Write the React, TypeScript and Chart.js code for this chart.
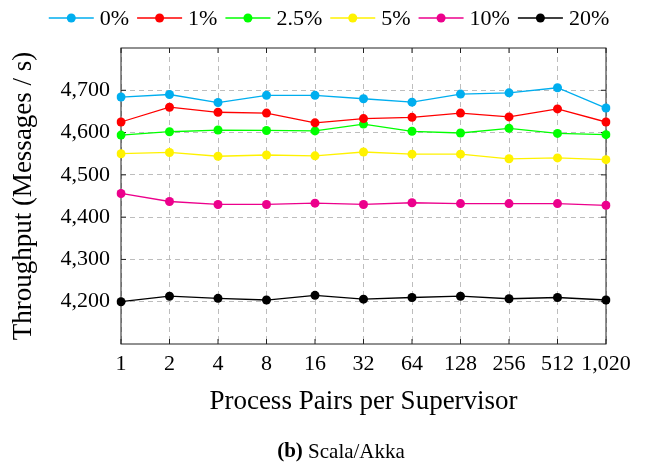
import React, { useEffect, useRef } from "react";
import { Chart, registerables } from "chart.js";

Chart.register(...registerables);

const categories = ["1", "2", "4", "8", "16", "32", "64", "128", "256", "512", "1,020"];
const seriesNames = ["0%", "1%", "2.5%", "5%", "10%", "20%"];
const seriesColors = ["#00AEEF", "#FF0000", "#00FF00", "#FFF200", "#EC008C", "#000000"];

const values0 = [4684, 4690, 4671, 4688, 4688, 4680, 4672, 4691, 4694, 4706, 4658];
const values1 = [4625, 4660, 4648, 4646, 4623, 4633, 4636, 4646, 4637, 4656, 4625];
const values2_5 = [4594, 4602, 4606, 4605, 4604, 4620, 4603, 4599, 4610, 4598, 4595];
const values5 = [4550, 4553, 4544, 4547, 4545, 4554, 4549, 4549, 4538, 4540, 4536];
const values10 = [4456, 4437, 4430, 4430, 4433, 4430, 4434, 4432, 4432, 4432, 4428];
const values20 = [4200, 4213, 4208, 4204, 4215, 4206, 4210, 4213, 4207, 4210, 4204];

const yTickValues = [4200, 4300, 4400, 4500, 4600, 4700];
const yMin = 4100;
const yMax = 4800;

const xTitle = "Process Pairs per Supervisor";
const yTitle = "Throughput (Messages / s)";
const captionBold = "(b)";
const captionRest = " Scala/Akka";

const FONT = "'Liberation Serif', 'DejaVu Serif', serif";

Chart.defaults.font.family = FONT;
Chart.defaults.font.size = 22;
Chart.defaults.color = "#000";

const framePlugin = {
  id: "frame",
  beforeDatasetsDraw(chart: any) {
    const { ctx, chartArea: a, scales } = chart;
    ctx.save();
    ctx.strokeStyle = "#222";
    ctx.lineWidth = 1;
    ctx.strokeRect(a.left, a.top, a.right - a.left, a.bottom - a.top);
    const tl = 5;
    ctx.beginPath();
    scales.y.ticks.forEach((t: any) => {
      const y = scales.y.getPixelForValue(t.value);
      ctx.moveTo(a.left, y);
      ctx.lineTo(a.left + tl, y);
      ctx.moveTo(a.right, y);
      ctx.lineTo(a.right - tl, y);
    });
    scales.x.ticks.forEach((_t: any, i: number) => {
      const x = scales.x.getPixelForTick(i);
      ctx.moveTo(x, a.bottom);
      ctx.lineTo(x, a.bottom - tl);
      ctx.moveTo(x, a.top);
      ctx.lineTo(x, a.top + tl);
    });
    ctx.stroke();
    ctx.restore();
  },
};

const legendPlugin = {
  id: "lineLegend",
  afterDraw(chart: any) {
    const { ctx } = chart;
    ctx.save();
    ctx.font = "22px " + FONT;
    const lineLen = 45;
    const gapText = 6;
    const gapItem = 8;
    const widths = seriesNames.map((n) => ctx.measureText(n).width);
    const total =
      widths.reduce((s, w) => s + lineLen + gapText + w, 0) + gapItem * (seriesNames.length - 1);
    let x = 329 - total / 2;
    const y = 18;
    seriesNames.forEach((n, i) => {
      const c = seriesColors[i];
      ctx.strokeStyle = c;
      ctx.lineWidth = 1.3;
      ctx.beginPath();
      ctx.moveTo(x, y);
      ctx.lineTo(x + lineLen, y);
      ctx.stroke();
      ctx.fillStyle = c;
      ctx.beginPath();
      ctx.arc(x + lineLen / 2, y, 4.5, 0, Math.PI * 2);
      ctx.fill();
      ctx.fillStyle = "#000";
      ctx.textBaseline = "middle";
      ctx.textAlign = "left";
      ctx.fillText(n, x + lineLen + gapText, y + 1.3);
      x += lineLen + gapText + widths[i] + gapItem;
    });
    ctx.restore();
  },
};

const captionPlugin = {
  id: "caption",
  afterDraw(chart: any) {
    const { ctx } = chart;
    ctx.save();
    ctx.fillStyle = "#000";
    ctx.textBaseline = "middle";
    const boldFont = "bold 21px " + FONT;
    const regFont = "21px " + FONT;
    ctx.font = boldFont;
    const wb = ctx.measureText(captionBold).width;
    ctx.font = regFont;
    const wr = ctx.measureText(captionRest).width;
    const cx = 341;
    const cy = 452;
    const x0 = cx - (wb + wr) / 2;
    ctx.font = boldFont;
    ctx.fillText(captionBold, x0, cy);
    ctx.font = regFont;
    ctx.fillText(captionRest, x0 + wb, cy);
    ctx.restore();
  },
};

export default function App() {
  const ref = useRef<HTMLCanvasElement | null>(null);

  useEffect(() => {
    document.body.style.margin = "0";
    const canvas = ref.current!;
    const allValues = [values0, values1, values2_5, values5, values10, values20];
    const chart = new Chart(canvas, {
      type: "line",
      data: {
        labels: categories,
        datasets: allValues.map((vals, i) => ({
          label: seriesNames[i],
          data: vals,
          borderColor: seriesColors[i],
          backgroundColor: seriesColors[i],
          pointBackgroundColor: seriesColors[i],
          pointBorderColor: seriesColors[i],
          pointRadius: 4.5,
          pointBorderWidth: 0,
          borderWidth: 1.3,
          tension: 0,
          fill: false,
        })),
      },
      options: {
        responsive: false,
        animation: false,
        devicePixelRatio: 1,
        layout: { padding: { top: 48, left: 0, right: 41, bottom: 0 } },
        plugins: {
          tooltip: { enabled: false },
          legend: { display: false },
        },
        scales: {
          x: {
            type: "category",
            offset: false,
            grid: { color: "#bdbdbd", lineWidth: 1, drawTicks: false, offset: false },
            border: { display: false, dash: [5, 4] },
            ticks: {
              color: "#000",
              font: { family: FONT, size: 22 },
              padding: 7,
              maxRotation: 0,
              autoSkip: false,
            },
            title: {
              display: true,
              text: xTitle,
              color: "#000",
              font: { family: FONT, size: 27 },
              padding: { top: 0, bottom: 53 },
            },
            afterFit: (s: any) => {
              s.height = 127;
            },
          },
          y: {
            type: "linear",
            min: yMin,
            max: yMax,
            grid: { color: "#bdbdbd", lineWidth: 1, drawTicks: false },
            border: { display: false, dash: [5, 4] },
            afterBuildTicks: (s: any) => {
              s.ticks = yTickValues.map((v) => ({ value: v }));
            },
            ticks: {
              color: "#000",
              font: { family: FONT, size: 22 },
              padding: 11,
              callback: (v: any) => Number(v).toLocaleString("en-US"),
            },
            title: {
              display: true,
              text: yTitle,
              color: "#000",
              font: { family: FONT, size: 27 },
              padding: { top: 8, bottom: 0 },
            },
            afterFit: (s: any) => {
              s.width = 121;
            },
          },
        },
      },
      plugins: [framePlugin, legendPlugin, captionPlugin],
    } as any);
    return () => chart.destroy();
  }, []);

  return (
    <div style={{ width: 647, height: 471 }}>
      <canvas ref={ref} width={647} height={471} />
    </div>
  );
}
